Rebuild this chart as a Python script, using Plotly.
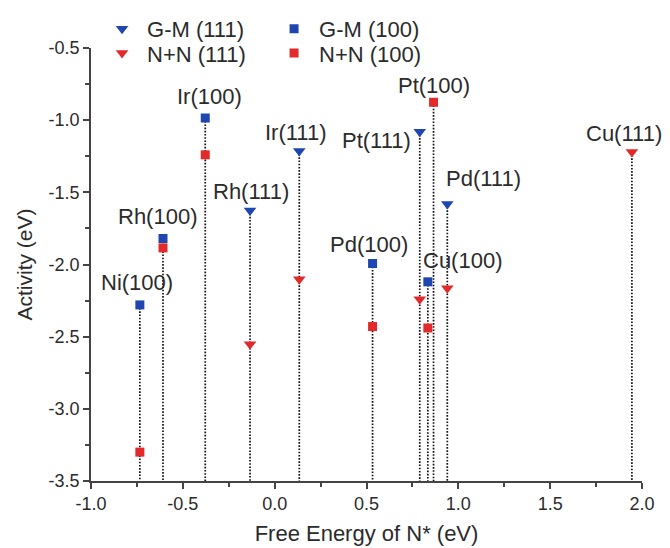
import plotly.graph_objects as go

# ---------------- data ----------------
materials = ["Ni(100)", "Rh(100)", "Ir(100)", "Rh(111)", "Ir(111)", "Pd(100)",
             "Pt(111)", "Cu(100)", "Pt(100)", "Pd(111)", "Cu(111)"]
facets = ["100", "100", "100", "111", "111", "100",
          "111", "100", "100", "111", "111"]
free_energy = [-0.734, -0.608, -0.378, -0.134, 0.134, 0.533,
               0.790, 0.834, 0.865, 0.940, 1.945]
gm_activity = [-2.28, -1.82, -0.985, -1.625, -1.213, -1.993,
               -1.08, -2.12, None, -1.58, None]
nn_activity = [-3.30, -1.885, -1.24, -2.553, -2.103, -2.43,
               -2.24, -2.44, -0.876, -2.165, -1.22]

x_ticks = [-1.0, -0.5, 0.0, 0.5, 1.0, 1.5, 2.0]
x_ticktext = ["-1.0", "-0.5", "0.0", "0.5", "1.0", "1.5", "2.0"]
y_ticks = [-3.5, -3.0, -2.5, -2.0, -1.5, -1.0, -0.5]
y_ticktext = ["-3.5", "-3.0", "-2.5", "-2.0", "-1.5", "-1.0", "-0.5"]

# label offsets in pixels (styling)
label_dx = [-3, -6, 4, 1, -3, -4, -43, 35, 0, 36, -8]
label_dy = [22, 22, 22, 19, 18, 19, -9, 21, 17, 25, 18]

BLUE = "#1f46b0"
RED = "#e32a2a"
FONT = "Liberation Sans, Arial, sans-serif"
TXT = "#2b2b2b"

x_min, x_max = x_ticks[0], x_ticks[-1]
y_min, y_max = y_ticks[0], y_ticks[-1]

fig = go.Figure()

# dotted stems from the highest point of each material down to the x-axis
stem_x, stem_y, tops = [], [], []
for xv, g, n in zip(free_energy, gm_activity, nn_activity):
    top = max(v for v in (g, n) if v is not None)
    tops.append(top)
    stem_x += [xv, xv, None]
    stem_y += [top, y_min, None]
fig.add_trace(go.Scatter(x=stem_x, y=stem_y, mode="lines",
                         line=dict(color="#111111", width=1.7, dash="1.6px,1.6px"),
                         showlegend=False, hoverinfo="skip", cliponaxis=False))


def subset(values, facet):
    xs, ys = [], []
    for xv, v, f in zip(free_energy, values, facets):
        if f == facet and v is not None:
            xs.append(xv)
            ys.append(v)
    return xs, ys


series = [
    ("G-M (111)", gm_activity, "111", BLUE, "triangle-down", 11, "legend"),
    ("G-M (100)", gm_activity, "100", BLUE, "square", 9, "legend"),
    ("N+N (111)", nn_activity, "111", RED, "triangle-down", 11, "legend2"),
    ("N+N (100)", nn_activity, "100", RED, "square", 9, "legend2"),
]
for name, vals, fac, col, sym, size, leg in series:
    xs, ys = subset(vals, fac)
    fig.add_trace(go.Scatter(x=xs, y=ys, mode="markers", name=name,
                             marker=dict(color=col, symbol=sym, size=size,
                                         line=dict(width=0)),
                             legend=leg, cliponaxis=False))

# text labels above each material
for m, xv, top, dx, dy in zip(materials, free_energy, tops, label_dx, label_dy):
    fig.add_annotation(x=xv, y=top, text=m, showarrow=False,
                       xshift=dx, yshift=dy, xanchor="center", yanchor="middle",
                       font=dict(family=FONT, size=22, color=TXT))

minor_x = [(a + b) / 2 for a, b in zip(x_ticks[:-1], x_ticks[1:])]
minor_y = [(a + b) / 2 for a, b in zip(y_ticks[:-1], y_ticks[1:])]

axis_common = dict(showline=True, linecolor="#444444", linewidth=1.6,
                   ticks="outside", ticklen=6, tickwidth=1.6, tickcolor="#444444",
                   showgrid=False, zeroline=False, mirror=False, automargin=False,
                   tickfont=dict(family=FONT, size=18, color=TXT))

fig.update_xaxes(range=[x_min, x_max], tickmode="array", tickvals=x_ticks,
                 ticktext=x_ticktext,
                 minor=dict(tickmode="array", tickvals=minor_x, ticks="outside",
                            ticklen=4, tickwidth=1.6, tickcolor="#444444"),
                 title=dict(text="Free Energy of N* (eV)",
                            font=dict(family=FONT, size=22, color=TXT), standoff=12),
                 **axis_common)
fig.update_yaxes(range=[y_min, y_max], tickmode="array", tickvals=y_ticks,
                 ticktext=y_ticktext,
                 minor=dict(tickmode="array", tickvals=minor_y, ticks="outside",
                            ticklen=4, tickwidth=1.6, tickcolor="#444444"),
                 title=dict(text="Activity (eV)",
                            font=dict(family=FONT, size=21, color=TXT), standoff=10),
                 **axis_common)

legend_common = dict(orientation="h", bgcolor="rgba(0,0,0,0)", borderwidth=0,
                     font=dict(family=FONT, size=22, color=TXT),
                     entrywidth=117, entrywidthmode="pixels",
                     xanchor="left", yanchor="middle", itemwidth=40,
                     tracegroupgap=0)

# page body adds an 8px offset, so the figure is sized to fit the window
fig.update_layout(
    width=662, height=540,
    margin=dict(l=83, r=28, t=40, b=67, autoexpand=False),
    paper_bgcolor="white", plot_bgcolor="white",
    legend=dict(x=0.011, y=1.044, **legend_common),
    legend2=dict(x=0.011, y=0.988, **legend_common),
    font=dict(family=FONT, color=TXT),
)

fig.write_html("out.html")
